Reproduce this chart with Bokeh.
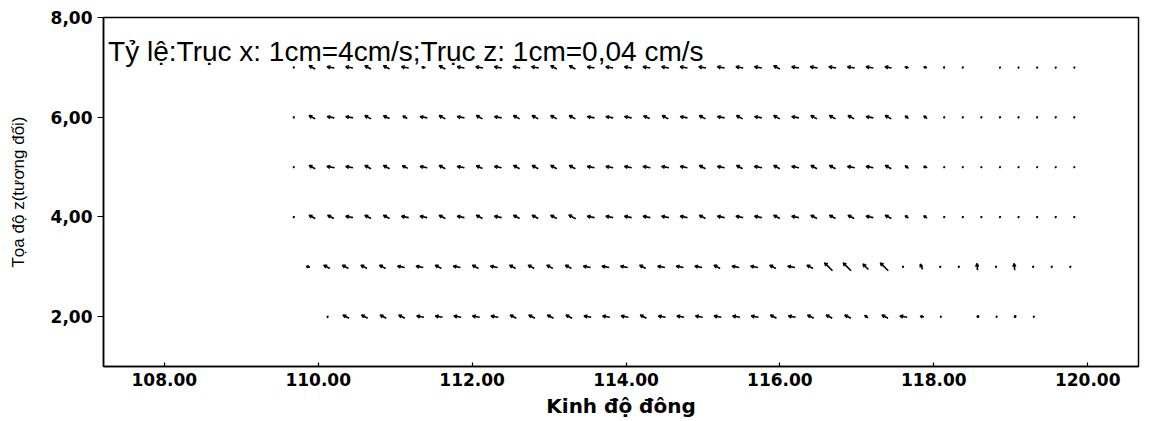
from bokeh.plotting import figure
from bokeh.models import ColumnDataSource, Arrow, OpenHead, Label, Range1d, FixedTicker
from bokeh.embed import file_html
from bokeh.resources import INLINE

# ---------------- data ----------------
X_TICKS = [108, 110, 112, 114, 116, 118, 120]
X_TICK_LABELS = ["108.00", "110.00", "112.00", "114.00", "116.00", "118.00", "120.00"]
Y_TICKS = [2, 4, 6, 8]
Y_TICK_LABELS = ["2,00", "4,00", "6,00", "8,00"]

TITLE = "Tỷ lệ:Trục x: 1cm=4cm/s;Trục z: 1cm=0,04 cm/s"
X_LABEL = "Kinh độ đông"
Y_LABEL = "Tọa độ z(tương đối)"

# relative depth level of each row and longitude of its first vector
row_z = [7, 6, 5, 4, 3, 2]
row_lon_start = [109.68, 109.68, 109.68, 109.68, 109.87, 110.12]
lon_step = 0.2415

# horizontal velocity u (cm/s), None = no vector
u7 = [-0.04, -0.28, -0.33, -0.33, -0.28, -0.28, -0.33, -0.17, -0.28, -0.33,
      -0.33, -0.33, -0.33, -0.33, -0.28, -0.28, -0.33, -0.33, -0.33, -0.33,
      -0.33, -0.33, -0.33, -0.33, -0.33, -0.33, -0.28, -0.33, -0.33, -0.33,
      -0.33, -0.33, -0.30, -0.17, -0.15, -0.06, -0.04, None, -0.03, -0.03,
      -0.03, -0.03, -0.03]
u6 = [-0.04, -0.28, -0.33, -0.33, -0.28, -0.28, -0.20, -0.33, -0.28, -0.33,
      -0.28, -0.33, -0.28, -0.28, -0.28, -0.28, -0.33, -0.33, -0.33, -0.28,
      -0.28, -0.33, -0.28, -0.33, -0.28, -0.33, -0.28, -0.33, -0.28, -0.28,
      -0.28, -0.33, -0.28, -0.15, -0.15, -0.04, -0.04, -0.04, -0.04, -0.04,
      -0.04, -0.04, -0.04]
u5 = [-0.04, -0.28, -0.35, -0.33, -0.28, -0.28, -0.25, -0.33, -0.28, -0.33,
      -0.28, -0.33, -0.28, -0.28, -0.28, -0.28, -0.33, -0.33, -0.33, -0.33,
      -0.33, -0.33, -0.28, -0.33, -0.28, -0.35, -0.28, -0.33, -0.28, -0.28,
      -0.33, -0.33, -0.28, -0.15, -0.17, -0.04, -0.04, -0.04, -0.04, -0.04,
      -0.04, -0.04, -0.04]
u4 = [-0.04, -0.28, -0.28, -0.33, -0.28, -0.28, -0.33, -0.33, -0.28, -0.33,
      -0.28, -0.33, -0.28, -0.28, -0.28, -0.32, -0.33, -0.33, -0.33, -0.33,
      -0.33, -0.33, -0.28, -0.33, -0.33, -0.33, -0.28, -0.33, -0.28, -0.28,
      -0.28, -0.33, -0.28, -0.15, -0.15, -0.04, -0.04, -0.04, -0.04, -0.04,
      -0.04, -0.04, -0.04]
u3 = [-0.17, -0.28, -0.28, -0.28, -0.28, -0.33, -0.33, -0.28, -0.33, -0.28,
      -0.33, -0.28, -0.28, -0.28, -0.28, -0.33, -0.33, -0.33, -0.28, -0.33,
      -0.33, -0.33, -0.28, -0.33, -0.33, -0.28, -0.33, -0.28, -0.36, -0.36,
      -0.25, -0.36, -0.04, -0.11, -0.04, -0.04, -0.03, -0.04, -0.03, -0.04,
      -0.04, -0.04]
u2 = [-0.04, -0.28, -0.28, -0.28, -0.28, -0.33, -0.33, -0.33, -0.33, -0.33,
      -0.28, -0.28, -0.28, -0.28, -0.33, -0.33, -0.33, -0.28, -0.33, -0.33,
      -0.33, -0.33, -0.33, -0.33, -0.28, -0.33, -0.28, -0.28, -0.28, -0.15,
      -0.28, -0.33, -0.17, -0.04, None, 0.08, -0.04, 0.08, -0.04]

# vertical velocity w (10^-3 cm/s), None = no vector
w7 = [0.2, 1.5, 0.6, 0.6, 1.5, 1.5, 0.6, 0.4, 1.5, 0.6,
      0.6, 0.6, 0.6, 0.6, 1.5, 1.5, 0.6, 0.6, 0.6, 0.6,
      0.6, 0.6, 0.6, 0.6, 0.6, 0.6, 1.5, 0.6, 0.6, 0.6,
      0.6, 0.6, 0.6, 0.4, 0.4, 0.2, 0.2, None, 0.2, 0.2,
      0.2, 0.2, 0.2]
w6 = [0.2, 1.5, 0.6, 0.6, 1.5, 1.2, 1.2, 0.6, 1.5, 0.6,
      1.5, 0.6, 1.5, 1.5, 1.5, 1.5, 0.6, 0.6, 0.6, 1.2,
      1.5, 0.6, 1.5, 0.6, 1.5, 0.6, 1.5, 0.6, 1.5, 1.5,
      1.5, 0.6, 1.5, 1.2, 1.2, 0.2, 0.2, 0.2, 0.2, 0.2,
      0.2, 0.2, 0.2]
w5 = [0.2, 1.5, 0.6, 0.6, 1.5, 1.5, 1.2, 0.6, 1.5, 0.6,
      1.2, 0.6, 1.5, 1.5, 1.5, 1.5, 0.6, 0.6, 0.6, 0.6,
      0.6, 0.6, 1.5, 0.6, 1.5, 0.6, 1.5, 0.6, 1.5, 1.5,
      0.6, 0.6, 1.5, 1.2, 0.4, 0.2, 0.2, 0.2, 0.2, 0.2,
      0.2, 0.2, 0.2]
w4 = [0.2, 1.5, 1.5, 0.6, 1.5, 1.5, 0.6, 0.6, 1.5, 0.6,
      1.5, 0.6, 1.5, 1.5, 1.5, 1.8, 0.6, 0.6, 0.6, 0.6,
      0.6, 0.6, 1.5, 0.6, 0.6, 0.6, 1.5, 0.6, 1.5, 1.5,
      1.5, 0.6, 1.5, 1.2, 1.2, 0.2, 0.2, 0.2, 0.2, 0.2,
      0.2, 0.2, 0.2]
w3 = [0.4, 1.5, 1.5, 1.5, 1.5, 0.6, 0.6, 1.5, 0.6, 1.5,
      0.6, 1.5, 1.5, 1.5, 1.5, 0.6, 0.6, 0.6, 1.5, 0.6,
      0.6, 0.6, 1.5, 0.6, 0.6, 1.5, 0.6, 1.5, 3.6, 3.6,
      2.5, 3.6, 0.2, 2.4, 0.2, 0.2, 3.0, 0.2, 3.0, 0.2,
      0.2, 0.2]
w2 = [0.2, 1.5, 1.5, 1.5, 1.5, 0.6, 0.6, 0.6, 0.6, 0.6,
      1.5, 1.5, 1.5, 1.5, 0.6, 0.6, 0.6, 1.5, 0.6, 0.6,
      0.6, 0.6, 0.6, 0.6, 1.5, 0.6, 1.5, 1.5, 1.5, 1.2,
      1.5, 0.6, 0.4, 0.2, None, 0.9, 0.2, 0.9, 0.2]

u_rows = [u7, u6, u5, u4, u3, u2]
w_rows = [w7, w6, w5, w4, w3, w2]

# vector scales as written on the chart
X_SCALE_CM_S = 4.0      # 1 cm  = 4 cm/s
Z_SCALE_CM_S = 0.04     # 1 cm  = 0.04 cm/s
W_UNIT = 1e-3           # w lists are in 10^-3 cm/s

# ---------------- layout ----------------
X0, X1 = 107.21, 120.66
Y0, Y1 = 1.0, 8.0
FRAME_W, FRAME_H = 1035, 349
PX_PER_CM = 88.0
px_per_deg = FRAME_W / (X1 - X0)
px_per_z = FRAME_H / (Y1 - Y0)

xs0, ys0, xs1, ys1, hs = [], [], [], [], []
for z, lon0, us, ws in zip(row_z, row_lon_start, u_rows, w_rows):
    for i, (u, w) in enumerate(zip(us, ws)):
        if u is None or w is None:
            continue
        lon = lon0 + i * lon_step
        dx_px = u / X_SCALE_CM_S * PX_PER_CM
        dy_px = (w * W_UNIT) / Z_SCALE_CM_S * PX_PER_CM
        dx = dx_px / px_per_deg
        dy = dy_px / px_per_z
        xs0.append(lon - dx / 2)
        ys0.append(z - dy / 2)
        xs1.append(lon + dx / 2)
        ys1.append(z + dy / 2)
        L = (dx_px ** 2 + dy_px ** 2) ** 0.5
        hs.append(min(3.2, 1.2 + 0.3 * L))

src = ColumnDataSource(dict(x0=xs0, y0=ys0, x1=xs1, y1=ys1, hs=hs))

p = figure(frame_width=FRAME_W, frame_height=FRAME_H,
           x_range=Range1d(X0, X1), y_range=Range1d(Y0, Y1),
           output_backend="svg", toolbar_location=None,
           min_border_left=103, min_border_top=17, min_border_right=5,
           min_border_bottom=10, background_fill_color="white",
           border_fill_color="white")

p.xgrid.visible = False
p.ygrid.visible = False
p.outline_line_color = "black"
p.outline_line_width = 1.5
p.outline_line_alpha = 1.0

arrows = Arrow(end=OpenHead(size="hs", line_color="black", line_width=1.4),
               x_start="x0", y_start="y0", x_end="x1", y_end="y1",
               source=src, line_color="black", line_width=1.6)
p.add_layout(arrows)

# axes
p.xaxis.ticker = FixedTicker(ticks=X_TICKS)
p.xaxis.major_label_overrides = {t: l for t, l in zip(X_TICKS, X_TICK_LABELS)}
p.yaxis.ticker = FixedTicker(ticks=Y_TICKS)
p.yaxis.major_label_overrides = {t: l for t, l in zip(Y_TICKS, Y_TICK_LABELS)}
for ax in (p.xaxis, p.yaxis):
    ax.minor_tick_line_color = None
    ax.axis_line_color = "black"
    ax.axis_line_width = 1.5
    ax.major_tick_line_color = "black"
    ax.major_tick_line_width = 1.2
    ax.major_label_text_font = "DejaVu Sans"
    ax.major_label_text_font_style = "bold"
    ax.major_label_text_font_size = "17px"
    ax.major_label_text_color = "black"
    ax.axis_label_text_color = "black"

p.xaxis.major_tick_in = 4
p.xaxis.major_tick_out = 0
p.xaxis.major_label_standoff = 6
p.xaxis.axis_label = X_LABEL
p.xaxis.axis_label_text_font = "DejaVu Sans"
p.xaxis.axis_label_text_font_style = "bold"
p.xaxis.axis_label_text_font_size = "20px"
p.xaxis.axis_label_standoff = 5

p.yaxis.major_tick_in = 0
p.yaxis.major_tick_out = 6
p.yaxis.major_label_standoff = 5
p.yaxis.axis_label = Y_LABEL
p.yaxis.axis_label_text_font = "Liberation Sans"
p.yaxis.axis_label_text_font_style = "normal"
p.yaxis.axis_label_text_font_size = "17px"
p.yaxis.axis_label_standoff = 20

title = Label(x=107.27, y=7.31, text=TITLE, text_font="Liberation Sans",
              text_font_size="28px", text_color="black",
              text_baseline="alphabetic", text_align="left")
p.add_layout(title)

open("out.html", "w").write(file_html(p, INLINE))
